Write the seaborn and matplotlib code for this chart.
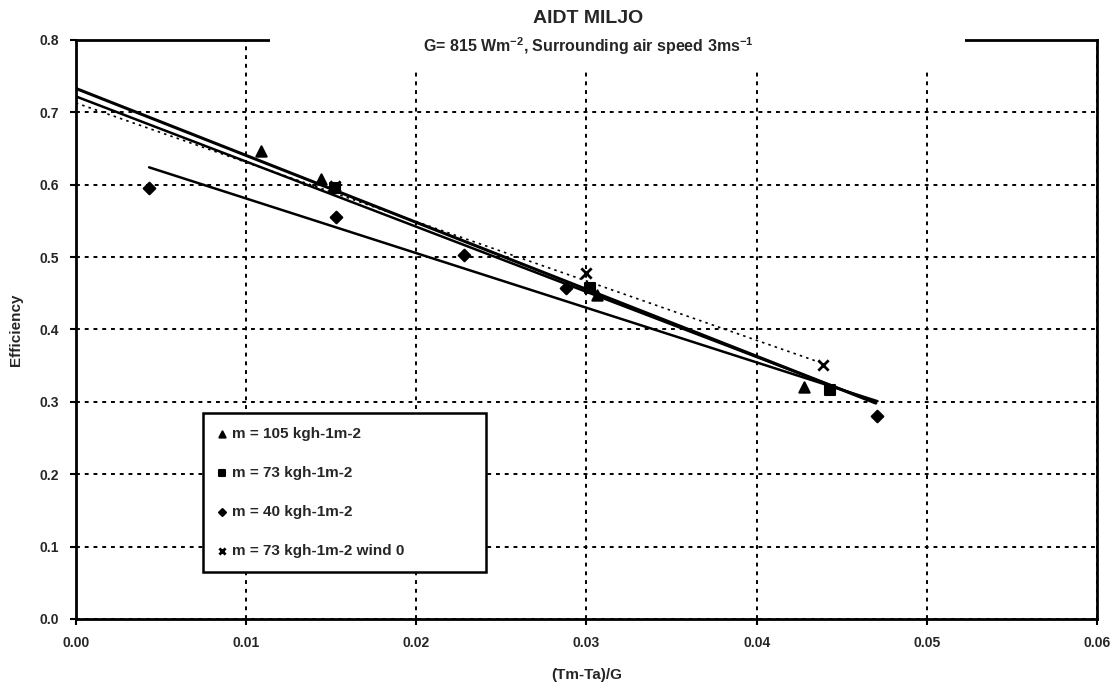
import numpy as np
import pandas as pd
import seaborn as sns
import matplotlib.pyplot as plt
from matplotlib.patches import Rectangle

# ---------------- data ----------------
series_labels = ["m = 105 kgh-1m-2", "m = 73 kgh-1m-2", "m = 40 kgh-1m-2", "m = 73 kgh-1m-2 wind 0"]
x_105 = [0.0109, 0.0144, 0.0306, 0.0428]
eff_105 = [0.646, 0.608, 0.447, 0.321]
x_73 = [0.0152, 0.0302, 0.0443]
eff_73 = [0.596, 0.457, 0.316]
x_40 = [0.0043, 0.0153, 0.0228, 0.0288, 0.0471]
eff_40 = [0.596, 0.556, 0.503, 0.457, 0.280]
x_73w0 = [0.0152, 0.0300, 0.0439]
eff_73w0 = [0.598, 0.478, 0.351]

# linear trend lines (intercept, slope, x-range)
trend_intercept = [0.733, 0.722, 0.6565, 0.713]
trend_slope = [-9.25, -9.00, -7.55, -8.20]
trend_xstart = [0.0, 0.0, 0.0043, 0.0]
trend_xend = [0.0470, 0.0465, 0.0471, 0.0440]

xticks = [0.00, 0.01, 0.02, 0.03, 0.04, 0.05, 0.06]
yticks = [0.0, 0.1, 0.2, 0.3, 0.4, 0.5, 0.6, 0.7, 0.8]
title = "AIDT MILJO"
subtitle = r"G= 815 Wm$^{\mathbf{-2}}$, Surrounding air speed 3ms$^{\mathbf{-1}}$"

# ---------------- style ----------------
sns.set_theme(style="white")
plt.rcParams['font.family'] = ['Liberation Sans', 'DejaVu Sans']
plt.rcParams['mathtext.fontset'] = 'custom'
plt.rcParams['mathtext.rm'] = 'Liberation Sans:bold'
plt.rcParams['mathtext.bf'] = 'Liberation Sans:bold'

fig = plt.figure(figsize=(11.16, 6.89), dpi=100)
ax = fig.add_axes([0.068, 0.1016, 0.915, 0.8404])

points = pd.DataFrame({
    "x": x_105 + x_73 + x_40 + x_73w0,
    "eff": eff_105 + eff_73 + eff_40 + eff_73w0,
    "series": [series_labels[0]] * len(x_105) + [series_labels[1]] * len(x_73)
              + [series_labels[2]] * len(x_40) + [series_labels[3]] * len(x_73w0),
})

# trend lines
line_styles = [dict(lw=2.2, ls='-'), dict(lw=1.8, ls='-'), dict(lw=1.8, ls='-'), dict(lw=1.2, ls=(0, (1.5, 2.5)))]
for i in range(4):
    xs = np.array([trend_xstart[i], trend_xend[i]])
    ys = trend_intercept[i] + trend_slope[i] * xs
    sns.lineplot(x=xs, y=ys, ax=ax, color='black', legend=False, zorder=3, **line_styles[i])

markers = {series_labels[0]: '^', series_labels[1]: 's', series_labels[2]: 'D', series_labels[3]: 'x'}
sizes_m = {series_labels[0]: 55, series_labels[1]: 45, series_labels[2]: 35, series_labels[3]: 55}
for lab in series_labels:
    d = points[points.series == lab]
    sns.scatterplot(data=d, x="x", y="eff", marker=markers[lab], s=sizes_m[lab], color='black',
                    edgecolor='black', linewidth=1.5 if lab != series_labels[3] else 2.0,
                    ax=ax, label=lab, zorder=4)

ax.set_xlim(0, 0.06)
ax.set_ylim(0, 0.8)
ax.set_xticks(xticks)
ax.set_xticklabels([f"{v:.2f}" for v in xticks], fontsize=10, fontweight='bold')
ax.set_yticks(yticks)
ax.set_yticklabels([f"{v:.1f}" for v in yticks], fontsize=10, fontweight='bold')
ax.tick_params(axis='both', which='major', direction='out', length=4, width=1.5, color='black', pad=8,
               bottom=True, left=True)
ax.grid(True, color='black', linestyle=(0, (2, 2.5)), linewidth=1.4)
ax.set_axisbelow(True)
for side in ['left', 'bottom', 'right', 'top']:
    ax.spines[side].set_visible(True)
    ax.spines[side].set_color('black')
    ax.spines[side].set_linewidth(2.0)

ax.set_xlabel("(Tm-Ta)/G", fontsize=11, fontweight='bold', labelpad=13)
ax.set_ylabel("Efficiency", fontsize=11, fontweight='bold', labelpad=12)

leg = ax.legend(loc='lower left', bbox_to_anchor=(0.124, 0.081, 0.278, 0.285), mode='expand',
                frameon=True, fancybox=False, edgecolor='black', framealpha=1,
                prop={'size': 11, 'weight': 'bold'}, labelspacing=1.65, handletextpad=0.2,
                handlelength=0.8, borderpad=0.9, markerscale=0.6, borderaxespad=0)
leg.get_frame().set_linewidth(1.8)

# white area behind the titles (covers top frame and grid there)
fig.add_artist(Rectangle((0.242, 0.9), 0.623, 0.1, transform=fig.transFigure,
                         facecolor='white', edgecolor='none', zorder=2))
fig.text(0.527, 0.973, title, ha='center', va='center', fontsize=14, fontweight='bold', zorder=3)
fig.text(0.527, 0.933, subtitle, ha='center', va='center', fontsize=11.5, fontweight='bold', zorder=3)

fig.savefig("out.png", dpi=100, facecolor='white')
